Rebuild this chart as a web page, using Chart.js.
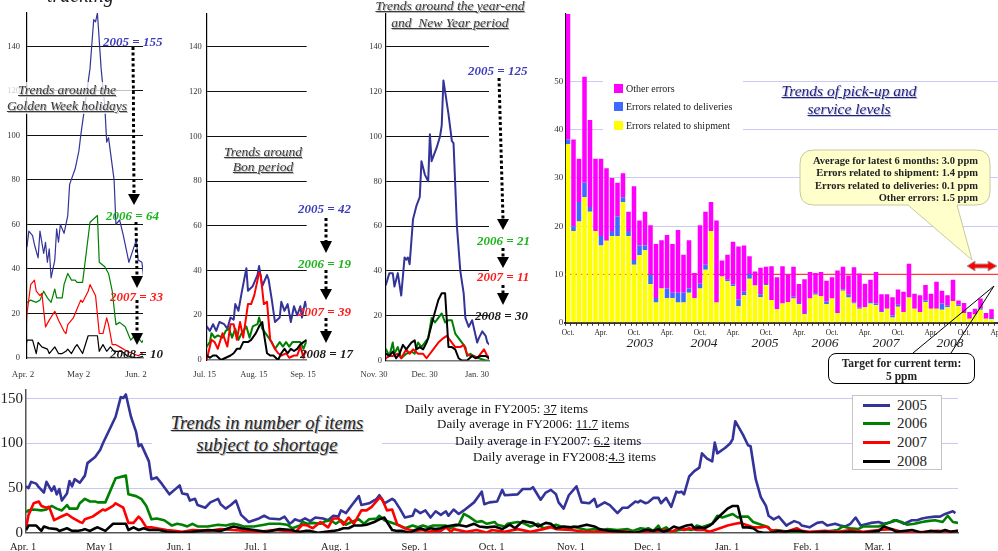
<!DOCTYPE html>
<html>
<head>
<meta charset="utf-8">
<title>Shortage and service level trends</title>
<script src="https://cdn.jsdelivr.net/npm/chart.js@4/dist/chart.umd.min.js"></script>
<style>
html, body { margin: 0; padding: 0; background: #fff; }
body { width: 998px; height: 551px; overflow: hidden; position: relative;
       font-family: "Liberation Serif", "Times New Roman", serif; color: #222; }
canvas { position: absolute; z-index: 1; }
svg.ov { position: absolute; left: 0; top: 0; z-index: 2; pointer-events: none; }
.t { position: absolute; white-space: nowrap; line-height: 1; z-index: 3; }
.lab { font-weight: bold; font-style: italic; font-size: 13px; }
.ttl { font-style: italic; text-decoration: underline; color: #3a3a3a; text-align: center;
       font-size: 13.5px; text-shadow: 1px 1px 0 #b8b8b8; }
.c05 { color: #3c3cbc; } .c06 { color: #1cb41c; } .c07 { color: #ff1a1a; } .c08 { color: #1a1a1a; }
.avg { font-size: 13px; color: #111; }
.yr { font-style: italic; font-size: 13.5px; color: #222; width: 40px; margin-left: -20px; text-align: center; }
.box { position: absolute; z-index: 3; background: #fff; }
</style>
</head>
<body>

<canvas id="gw"  width="170" height="385" style="left:0;top:0"></canvas>
<canvas id="bon" width="180" height="385" style="left:160px;top:0"></canvas>
<canvas id="ny"  width="200" height="385" style="left:340px;top:0"></canvas>
<canvas id="ppm" width="470" height="350" style="left:540px;top:0"></canvas>
<canvas id="year" width="998" height="173" style="left:0;top:378px"></canvas>

<svg class="ov" width="998" height="551" viewBox="0 0 998 551">
  <g stroke="#000" stroke-width="3" stroke-dasharray="3 2.5" fill="none">
    <line x1="133" y1="47"  x2="134" y2="194"/>
    <line x1="136" y1="222" x2="137" y2="276"/>
    <line x1="137" y1="300" x2="137" y2="333"/>
    <line x1="326" y1="218" x2="326" y2="241"/>
    <line x1="326" y1="270" x2="326" y2="289"/>
    <line x1="326" y1="318" x2="326" y2="331"/>
    <line x1="499" y1="78"  x2="503" y2="219"/>
    <line x1="503" y1="248" x2="503" y2="257"/>
    <line x1="503" y1="285" x2="503" y2="293"/>
  </g>
  <g fill="#000">
    <polygon points="128,194 140,194 134,205"/>
    <polygon points="131,276 143,276 137,288"/>
    <polygon points="131,333 143,333 137,345"/>
    <polygon points="320,241 332,241 326,253"/>
    <polygon points="320,289 332,289 326,300"/>
    <polygon points="320,331 332,331 326,343"/>
    <polygon points="497,219 509,219 503,230"/>
    <polygon points="497,257 509,257 503,268"/>
    <polygon points="497,293 509,293 503,305"/>
  </g>
  <!-- speech bubble for the six-month average -->
  <path d="M 814,150 H 976 Q 990,150 990,164 V 191 Q 990,205 976,205 H 957 L 972,260 L 908,205 H 814 Q 800,205 800,191 V 164 Q 800,150 814,150 Z"
        fill="#ffffcc" stroke="#c8c8a0" stroke-width="1"/>
  <!-- double arrow marking the latest six months -->
  <polygon points="967,266 975,261 975,264 988,264 988,261 997,266 988,271 988,268 975,268 975,271"
           fill="#ff0000" stroke="#a0a0a0" stroke-width="1"/>
  <g stroke="#000" stroke-width="1">
    <line x1="913" y1="353" x2="994" y2="286"/>
    <line x1="951" y1="353" x2="994" y2="286"/>
  </g>
</svg>

<!-- panel headings and value labels -->
<div class="t" style="left:47px;top:-15px;font-size:20px;font-style:italic;">tracking</div>

<div class="t ttl" style="left:2px;top:82px;width:130px;line-height:16px;background:rgba(255,255,255,0.75);">Trends around the<br>Golden Week holidays</div>
<div class="t lab c05" style="left:103px;top:34.5px">2005 = 155</div>
<div class="t lab c06" style="left:106px;top:208.5px">2006 = 64</div>
<div class="t lab c07" style="left:110px;top:289.5px">2007 = 33</div>
<div class="t lab c08" style="left:110px;top:346.5px">2008 = 10</div>

<div class="t ttl" style="left:213px;top:143.5px;width:100px;line-height:15px;">Trends around<br>Bon period</div>
<div class="t lab c05" style="left:298px;top:201.5px">2005 = 42</div>
<div class="t lab c06" style="left:298px;top:256.5px">2006 = 19</div>
<div class="t lab c07" style="left:298px;top:304.5px">2007 = 39</div>
<div class="t lab c08" style="left:300px;top:346.5px">2008 = 17</div>

<div class="t ttl" style="left:365px;top:-3.5px;width:170px;line-height:17px;">Trends around the year-end<br>and &nbsp;New Year period</div>
<div class="t lab c05" style="left:468px;top:63.5px">2005 = 125</div>
<div class="t lab c06" style="left:477px;top:233.5px">2006 = 21</div>
<div class="t lab c07" style="left:477px;top:269.5px">2007 = 11</div>
<div class="t lab c08" style="left:475px;top:308.5px">2008 = 30</div>

<!-- error rate panel -->
<div class="t ttl" style="left:759px;top:82px;width:180px;line-height:18px;font-size:15.5px;color:#202080;text-shadow:1px 1px 0 #c0c0d8;">Trends of pick-up and<br>service levels</div>
<div class="box" style="left:603px;top:79px;width:140px;height:55px;"></div>
<div id="ppmLegend"></div>
<div class="t" style="left:800px;top:154.75px;width:178px;text-align:right;font-weight:bold;font-size:10.5px;line-height:12.5px;">Average for latest 6 months: 3.0 ppm<br>Errors related to shipment: 1.4 ppm<br>Errors related to deliveries: 0.1 ppm<br>Other errors: 1.5 ppm</div>
<div class="t" style="left:828px;top:353px;width:147px;height:31px;box-sizing:border-box;border:1px solid #000;border-radius:8px;background:#fff;text-align:center;font-weight:bold;font-size:11.5px;line-height:13px;padding-top:3px;">Target for current term:<br>5 ppm</div>
<div class="t yr" style="left:640px;top:336px">2003</div>
<div class="t yr" style="left:704px;top:336px">2004</div>
<div class="t yr" style="left:765px;top:336px">2005</div>
<div class="t yr" style="left:825px;top:336px">2006</div>
<div class="t yr" style="left:886px;top:336px">2007</div>
<div class="t yr" style="left:950px;top:336px">2008</div>

<!-- full-year panel -->
<div class="t" style="left:152px;top:412px;width:230px;text-align:center;font-style:italic;text-decoration:underline;font-size:18.5px;line-height:22px;color:#262626;background:#fff;text-shadow:1px 1px 0 #b8b8b8;">Trends in number of items<br>subject to shortage</div>
<div class="t avg" style="left:405px;top:401.5px">Daily average in FY2005: <u>37</u> items</div>
<div class="t avg" style="left:437px;top:416.5px">Daily average in FY2006: <u>11.7</u> items</div>
<div class="t avg" style="left:455px;top:433.5px">Daily average in FY2007: <u>6.2</u> items</div>
<div class="t avg" style="left:473px;top:449.5px">Daily average in FY2008:<u>4.3</u> items</div>
<div id="yearLegend" class="box" style="left:852px;top:395px;width:90px;height:75px;box-sizing:border-box;border:1px solid #c4c4c4;"></div>

<script>
// Items subject to shortage per day, one list per fiscal year.
// Each entry: [days counted from Apr. 1, number of items].
const items2005 = [
  [0,52],[1,50],[2,57],[4,55],[5,51],[7,45],[8,57],[10,47],[11,52],[12,43],[13,49],[14,36],[16,44],[17,58],[18,52],[19,60],[21,56],[23,64],[24,78],[27,85],[29,93],[30,100],[33,118],[35,130],[37,152],[38,151],[39,155],[41,130],[43,113],[44,97],[45,99],[48,80],[49,60],[51,62],[53,55],[56,43],[58,48],[60,53],[61,44],
  [63,43],[64,36],[66,38],[67,31],[70,28],[72,34],[75,38],[76,32],[78,27],[80,31],[82,36],[84,20],[87,12],[89,14],[91,16],[93,19],[95,16],[99,15],[101,18],[103,10],[104,12],
  [105,15],[107,13],[109,16],[111,13],[113,17],[116,16],[118,14],[120,19],[122,18],[123,25],[125,22],[127,30],[130,41],[131,31],[134,33],[137,38],[138,42],[140,33],[143,38],[144,36],[146,27],[148,17],[151,19],[152,26],[154,22],[156,25],[158,17],[160,24],[162,20],[164,24],[165,19],[167,26],
  [169,21],[171,25],[175,34],[178,46],[179,32],[181,34],[184,35],[186,48],[187,42],[192,43],[194,49],[197,49],[198,51],[201,37],[203,45],[205,48],[207,43],[208,34],[210,27],[212,42],[215,52],[217,34],[220,33],[222,38],[223,29],[226,34],[228,31],[231,22],[233,28],[235,28],[238,35],[239,34],[240,36],[242,33],
  [243,34],[245,39],[247,39],[248,33],[250,39],[252,29],[254,46],[255,45],[256,46],[257,43],[259,63],[261,69],[263,73],[264,89],[266,83],[268,80],[269,101],[270,89],[273,95],[275,100],[276,105],[277,125],[278,120],[280,110],[282,98],[283,97],[285,60],[287,40],[289,30],[290,19],[292,15],[294,18],[297,8],[298,10],[300,13],[302,11],[303,8],
  [306,6],[309,11],[311,12],[313,8],[316,10],[318,8],[320,7],[322,10],[324,17],[326,8],[330,11],[333,12],[335,10],[338,12],[340,14],[343,10],[346,14],[348,14],[350,16],[352,17],[355,18],[357,18],[359,21],[362,24],[363,22]
];
const items2006 = [
  [0,23],[1,25],[3,26],[6,25],[8,26],[10,30],[12,27],[14,25],[16,31],[17,27],[20,27],[21,33],[23,38],[25,35],[27,35],[28,34],[31,34],[35,61],[39,64],[40,43],[43,41],[45,38],[47,30],[49,15],[51,16],[54,14],[57,8],[59,10],[61,9],
  [63,7],[65,10],[67,7],[71,7],[75,9],[78,8],[81,10],[83,9],[85,7],[89,7],[93,9],[95,10],[99,10],[102,9],[104,5],
  [107,8],[108,12],[110,10],[112,11],[115,10],[117,13],[119,14],[121,10],[123,14],[125,9],[127,12],[130,15],[132,10],[134,15],[137,16],[138,19],[140,14],[142,12],[144,10],[146,8],[148,5],[151,8],[153,6],[155,8],[157,6],[159,8],[162,8],[164,8],[166,5],
  [167,7],[169,9],[171,21],[173,18],[176,12],[178,13],[180,10],[183,12],[184,9],[187,7],[188,10],[192,12],[194,11],[197,7],[200,10],[202,5],[205,7],[207,9],[209,7],[211,5],[214,7],[216,5],[219,3],[222,4],[224,2],[227,4],[231,3],[235,4],[237,2],[240,5],[242,4],
  [243,5],[245,2],[247,8],[248,3],[250,6],[252,1],[255,3],[258,4],[260,3],[262,8],[264,6],[266,8],[268,10],[270,19],[272,17],[274,19],[276,21],[278,17],[280,18],[282,18],[284,12],[286,10],[288,8],[290,6],[291,2],[293,3],[295,2],[298,1],[302,0],
  [306,0],[312,1],[317,3],[319,7],[322,5],[325,4],[327,7],[331,7],[333,7],[335,9],[337,11],[339,14],[342,12],[344,9],[347,10],[350,12],[352,13],[355,14],[358,12],[360,19],[362,12],[364,11]
];
const items2007 = [
  [0,5],[1,20],[3,33],[5,35],[6,30],[8,28],[9,29],[11,14],[13,17],[16,21],[18,17],[21,12],[22,11],[23,15],[26,18],[28,22],[30,26],[31,25],[34,30],[35,33],[38,28],[40,11],[42,11],[44,18],[45,15],[47,6],[49,6],[51,5],[55,3],[58,2],[61,1],
  [65,3],[71,2],[76,4],[81,3],[86,2],[91,1],[97,3],[102,2],
  [105,0],[108,9],[110,8],[112,5],[115,12],[118,6],[120,16],[122,16],[124,9],[126,17],[128,10],[131,25],[133,25],[135,29],[138,39],[139,38],[141,25],[143,26],[145,9],[148,5],[150,3],[152,2],[155,3],[157,1],[160,2],[162,2],[164,6],[166,1],
  [167,4],[172,1],[176,3],[180,0],[182,3],[187,1],[192,4],[197,1],[202,4],[205,6],[207,4],[213,3],[218,1],[223,1],[228,0],[233,2],[238,0],[241,1],
  [243,1],[245,2],[247,2],[250,3],[252,1],[255,5],[257,3],[259,5],[262,3],[265,3],[267,1],[271,5],[274,8],[277,10],[279,11],[282,8],[284,6],[287,6],[289,7],[291,3],[293,2],[295,2],[297,1],[299,3],[301,5],[303,2],
  [306,1],[312,2],[317,1],[322,3],[327,1],[333,3],[338,4],[342,1],[346,0],[351,1],[356,2],[361,1],[364,2]
];
const items2008 = [
  [0,3],[1,8],[4,8],[6,2],[7,7],[9,5],[12,4],[13,2],[16,5],[18,2],[20,2],[22,3],[23,4],[25,2],[27,5],[28,6],[31,2],[34,10],[39,10],[40,3],[42,6],[44,3],[46,5],[48,3],[52,3],[55,1],[60,0],
  [65,1],[71,3],[76,2],[81,7],[84,5],[89,3],[94,1],[99,4],[104,3],
  [105,2],[107,1],[109,2],[111,2],[114,0],[117,1],[120,2],[122,3],[124,5],[126,5],[128,8],[131,8],[133,9],[136,12],[138,15],[140,17],[141,12],[143,3],[145,2],[147,2],[150,0],[152,3],[154,5],[156,3],[158,5],[160,4],[162,5],[164,7],[168,9],
  [170,8],[172,7],[175,10],[177,7],[180,6],[183,7],[186,4],[189,9],[191,5],[194,13],[196,12],[198,11],[200,7],[203,11],[205,10],[207,5],[210,7],[213,6],[216,7],[219,9],[222,7],[224,4],[228,2],[233,1],[238,0],[242,3],
  [243,3],[245,2],[247,4],[249,1],[251,3],[253,7],[255,5],[258,8],[260,9],[261,5],[263,6],[265,5],[267,8],[268,10],[271,19],[274,27],[276,30],[278,30],[280,6],[282,6],[284,5],[286,1],[288,0],[291,0],[294,2],[296,1],[299,2],[302,2],
  [306,0],[312,1],[317,0],[322,1],[327,0],[333,2],[335,7],[338,4],[340,1],[346,3],[350,0],[353,2],[357,1],[359,3],[361,1],[364,2]
];

const yearNames = ['2005', '2006', '2007', '2008'];

// Tick days and labels for each time window.
const yearTickDays   = [0, 30, 61, 91, 122, 153, 183, 214, 244, 275, 306, 334];
const yearTickLabels = ['Apr. 1','May 1','Jun. 1','Jul. 1','Aug. 1','Sep. 1','Oct. 1','Nov. 1','Dec. 1','Jan. 1','Feb. 1','Mar. 1'];
const gwTickDays   = [1, 31, 62];
const gwTickLabels = ['Apr. 2', 'May 2', 'Jun. 2'];
const bonTickDays   = [105, 136, 167];
const bonTickLabels = ['Jul. 15', 'Aug. 15', 'Sep. 15'];
const nyTickDays   = [243, 273, 304];
const nyTickLabels = ['Nov. 30', 'Dec. 30', 'Jan. 30'];

// Monthly error rates in ppm, starting Oct. 2002.
const shipmentErrors = [37,19,21,26,23,19,16,17,18,18, 25,18,12,14,15,8,4.2,7.1,5.1,5.1, 4.2,4.2,6.2,5.1,7.1,11,19,4.2,9.6,8.6,
  7.6,3.4,5.7,9.1,7.7,5.3,7.8,4.7,2.8,4, 4.3,5,3.8,1.8,5,5.8,5.5,3.9,5,2, 6.6,5.2,4,2.9,3.2,4,3.6,2.2,2.9,1.1,
  3.3,2.2,5.2,2.9,2.2,4.3,2.9,2.9,2.7,3.2, 4.5,3.4,2,0.8,1.7,2.7,0.8,0.7];
const deliveryErrors = [1,1,4,3,1,0,2,0,1,4, 1,1,1,2,1,2,0.9,0,2,1.1, 2,2,0.9,0,1,1,0,0,0,0.3,
  0.3,1.4,0.7,1,0,0.6,0.2,0,0,0, 0,0.4,0.3,0.2,0,0.3,0,0.5,0,0, 0.3,0.6,0.2,0.2,0,0.3,0.4,0.2,0,0.4,
  0.4,0,0,0,0,0.3,0,0,1.3,0.3, 0,0.3,0,0,0,0.3,0,0.3];
const otherErrors = [26,18,9,22,18,15,16,15,11,7, 5,4,15.3,5.2,7,10.2,11.2,10,11.1,10.1, 13,7.9,10,5.2,12.1,11,6,17,3.3,5.2,
  8.9,11,9.6,3.7,2.9,5.5,3.6,7,6.6,7.7, 5.7,6.2,3.9,7,5.5,4.2,5,4.3,4.4,8.8, 4.7,4,7.3,7.1,4.9,4.6,6.5,3.5,3,3.8,
  3.2,4.2,7,3.1,3.5,3.2,3.1,5.6,2.6,2.2, 4.4,0.9,2.1,1.4,1.2,2,1.2,1.8];
const errorSeriesNames = ['Errors related to shipment', 'Errors related to deliveries', 'Other errors'];
const ppmReferenceLevel = 10;
const ppmLabelledMax = 50;

// Month axis: Oct. 2002 onward, with two spare months past the last bar.
const firstYear = 2002, firstMonth = 9, monthCount = 80;

// ---------- styles ----------
const SERIF = '"Liberation Serif", "Times New Roman", serif';
const lineColors = { '2005': '#333399', '2006': '#008000', '2007': '#ff0000', '2008': '#000000' };
const barColors = ['#ffff00', '#3d6bff', '#ff00ff'];

Chart.defaults.font.family = SERIF;
Chart.defaults.color = '#333';

const seriesByYear = { '2005': items2005, '2006': items2006, '2007': items2007, '2008': items2008 };
const toPoints = rows => rows.map(([x, y]) => ({ x, y }));

function shortagePanel(id, cfg) {
  // 2008 first so it is painted on top of the others
  const order = yearNames.slice().reverse();
  return new Chart(document.getElementById(id), {
    type: 'line',
    data: {
      datasets: order.map(name => ({
        label: name,
        data: toPoints(seriesByYear[name]),
        borderColor: lineColors[name],
        borderWidth: cfg.lineWidth,
        pointRadius: 0,
        tension: 0,
        fill: false,
        borderJoinStyle: 'round'
      }))
    },
    options: {
      responsive: false,
      animation: false,
      events: [],
      layout: { padding: { left: 0, top: cfg.padTop, right: cfg.padRight, bottom: 0 } },
      plugins: { legend: { display: false }, tooltip: { enabled: false } },
      scales: {
        x: {
          type: 'linear', min: cfg.xMin, max: cfg.xMax,
          afterBuildTicks: s => { s.ticks = cfg.tickDays.map(v => ({ value: v })); },
          afterFit: s => { s.height = cfg.xHeight; },
          ticks: {
            autoSkip: false, maxRotation: 0,
            callback: (v, i) => cfg.tickLabels[i],
            labelOffset: cfg.labelOffset, padding: cfg.xPad,
            font: { size: cfg.xFont }, color: cfg.tickColor
          },
          grid: { display: false, drawTicks: false },
          border: { display: true, color: cfg.xAxisColor, width: cfg.xAxisWidth }
        },
        y: {
          min: 0, max: cfg.yMax,
          afterFit: s => { s.width = cfg.yWidth; },
          ticks: {
            stepSize: cfg.yStep, includeBounds: false, padding: cfg.yPad,
            font: { size: cfg.yFont }, color: cfg.tickColor
          },
          grid: {
            drawTicks: false, lineWidth: 1,
            color: c => (c.tick && c.tick.value === 0) ? 'rgba(0,0,0,0)' : cfg.gridColor
          },
          border: { display: true, color: cfg.yAxisColor, width: cfg.yAxisWidth }
        }
      }
    }
  });
}

shortagePanel('gw', {
  xMin: 1, xMax: 63.6, tickDays: gwTickDays, tickLabels: gwTickLabels, labelOffset: -4,
  yMax: 155, yStep: 20, yWidth: 27, padTop: 13, padRight: 27, xHeight: 27,
  xPad: 11, yPad: 7, xFont: 9, yFont: 8.5, tickColor: '#333', gridColor: '#111',
  xAxisColor: '#777', xAxisWidth: 1.5, yAxisColor: '#000', yAxisWidth: 1.2, lineWidth: 1.2
});
shortagePanel('bon', {
  xMin: 105, xMax: 168, tickDays: bonTickDays, tickLabels: bonTickLabels, labelOffset: -2,
  yMax: 155, yStep: 20, yWidth: 46.7, padTop: 13.3, padRight: 33.3, xHeight: 25,
  xPad: 9.5, yPad: 5, xFont: 8.5, yFont: 8.5, tickColor: '#333', gridColor: '#111',
  xAxisColor: '#777', xAxisWidth: 1.5, yAxisColor: '#000', yAxisWidth: 1.2, lineWidth: 2
});
shortagePanel('ny', {
  xMin: 243, xMax: 304, tickDays: nyTickDays, tickLabels: nyTickLabels, labelOffset: -12,
  yMax: 155, yStep: 20, yWidth: 46, padTop: 13.3, padRight: 51, xHeight: 24.5,
  xPad: 9, yPad: 4, xFont: 8.5, yFont: 8.5, tickColor: '#333', gridColor: '#111',
  xAxisColor: '#777', xAxisWidth: 1.5, yAxisColor: '#000', yAxisWidth: 1.2, lineWidth: 2
});
shortagePanel('year', {
  xMin: 0, xMax: 364, tickDays: yearTickDays, tickLabels: yearTickLabels, labelOffset: -3,
  yMax: 160, yStep: 50, yWidth: 26, padTop: 10.3, padRight: 40, xHeight: 18.3,
  xPad: 8.5, yPad: 3, xFont: 10.5, yFont: 15, tickColor: '#222', gridColor: '#c8c8f4',
  xAxisColor: '#555', xAxisWidth: 1.5, yAxisColor: '#555', yAxisWidth: 1.5, lineWidth: 2.6
});

// ---------- monthly error rates ----------
const monthKeys = [];
for (let i = 0; i < monthCount; i++) {
  const m = (firstMonth + i) % 12;
  const y = firstYear + Math.floor((firstMonth + i) / 12);
  monthKeys.push(y + '-' + String(m + 1).padStart(2, '0'));
}
const monthTick = key => {
  const m = Number(key.slice(5));
  return m === 10 ? 'Oct.' : (m === 4 ? 'Apr.' : '');
};

const referenceLine = {
  id: 'referenceLine',
  beforeDatasetsDraw(chart) {
    const { ctx, chartArea, scales } = chart;
    const y = scales.y.getPixelForValue(ppmReferenceLevel);
    ctx.save();
    ctx.strokeStyle = '#ff3b3b';
    ctx.lineWidth = 1.3;
    ctx.beginPath();
    ctx.moveTo(chartArea.left, y);
    ctx.lineTo(chartArea.right, y);
    ctx.stroke();
    ctx.restore();
  }
};

new Chart(document.getElementById('ppm'), {
  type: 'bar',
  data: {
    labels: monthKeys,
    datasets: [shipmentErrors, deliveryErrors, otherErrors].map((vals, i) => ({
      label: errorSeriesNames[i],
      data: vals,
      backgroundColor: barColors[i],
      borderWidth: 0,
      barPercentage: 0.82,
      categoryPercentage: 1
    }))
  },
  options: {
    responsive: false,
    animation: false,
    events: [],
    layout: { padding: { left: 0, top: 14, right: 4.75, bottom: 0 } },
    plugins: { legend: { display: false }, tooltip: { enabled: false } },
    scales: {
      x: {
        stacked: true,
        afterFit: s => { s.height = 27.3; },
        ticks: {
          autoSkip: false, maxRotation: 0, padding: 3.2,
          callback: function (v) { return monthTick(this.getLabelForValue(v)); },
          font: { size: 7.5 }, color: '#222'
        },
        grid: { display: true, drawOnChartArea: false, drawTicks: true, tickLength: 3, color: '#333', offset: true },
        border: { display: true, color: '#333', width: 2 }
      },
      y: {
        stacked: true, min: 0, max: 64,
        afterFit: s => { s.width = 25.25; },
        ticks: {
          stepSize: 10, includeBounds: false, padding: 2, font: { size: 9 }, color: '#333',
          callback: v => (v > ppmLabelledMax ? '' : v)
        },
        grid: {
          drawTicks: false, lineWidth: 1,
          color: c => (c.tick && (c.tick.value === 0 || c.tick.value > ppmLabelledMax)) ? 'rgba(0,0,0,0)' : '#cacaf4'
        },
        border: { display: true, color: '#000', width: 1.2 }
      }
    }
  },
  plugins: [referenceLine]
});

// ---------- legends ----------
(function () {
  const host = document.getElementById('ppmLegend');
  const rows = [
    { name: errorSeriesNames[2], color: barColors[2], y: 88 },
    { name: errorSeriesNames[1], color: barColors[1], y: 106.5 },
    { name: errorSeriesNames[0], color: barColors[0], y: 125.5 }
  ];
  rows.forEach(r => {
    const sw = document.createElement('div');
    sw.className = 'box';
    sw.style.cssText = `left:614px;top:${r.y - 4.5}px;width:9px;height:9px;background:${r.color};z-index:4;`;
    host.appendChild(sw);
    const tx = document.createElement('div');
    tx.className = 't';
    tx.style.cssText = `left:626px;top:${r.y - 4.5}px;font-size:10px;color:#222;z-index:4;`;
    tx.textContent = r.name;
    host.appendChild(tx);
  });

  const box = document.getElementById('yearLegend');
  [10, 28, 47, 66].forEach((cy, i) => {
    const name = yearNames[i];
    const ln = document.createElement('div');
    ln.style.cssText = `position:absolute;left:10px;top:${cy - 2.5}px;width:27px;height:3px;background:${lineColors[name]};`;
    box.appendChild(ln);
    const tx = document.createElement('div');
    tx.className = 't';
    tx.style.cssText = `left:44px;top:${cy - 8.5}px;font-size:15px;color:#222;`;
    tx.textContent = name;
    box.appendChild(tx);
  });
})();
</script>
</body>
</html>
